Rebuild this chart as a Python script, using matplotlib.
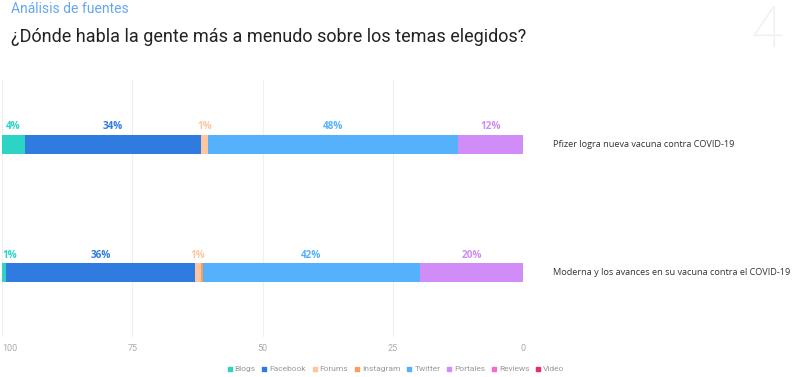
import matplotlib
matplotlib.use('Agg')
import matplotlib.pyplot as plt

# Datos
temas = ['Pfizer logra nueva vacuna contra COVID-19',
         'Moderna y los avances en su vacuna contra el COVID-19']
fuentes = ['Blogs', 'Facebook', 'Forums', 'Instagram', 'Twitter', 'Portales', 'Reviews', 'Video']
colores = ['#2dd4c3', '#2f7be0', '#fdc6a0', '#f99d5b', '#56b1fd', '#d18df7', '#f36bd3', '#e62e6d']
valores = {
    'Blogs':     [4.4, 0.8],
    'Facebook':  [33.8, 36.3],
    'Forums':    [1.4, 1.0],
    'Instagram': [0.0, 0.4],
    'Twitter':   [48.0, 41.8],
    'Portales':  [12.4, 19.7],
    'Reviews':   [0.0, 0.0],
    'Video':     [0.0, 0.0],
}
ticks = [100, 75, 50, 25, 0]

W, H = 800, 377
fig = plt.figure(figsize=(8, 3.77), dpi=100)
ax = fig.add_axes([2 / W, (H - 337) / H, (523 - 2) / W, (337 - 80) / H])

alto = 19 / 129
acum = [0.0, 0.0]
for fuente, color in zip(fuentes, colores):
    vals = valores[fuente]
    for i, v in enumerate(vals):
        if v <= 0:
            continue
        izq = 100 - acum[i] - v
        ax.barh(i, v, left=izq, height=alto, color=color, zorder=3)
        if round(v) >= 1:
            centro = izq + v / 2
            ha = 'center'
            if centro > 98:
                centro, ha = 100, 'left'
            ax.annotate(f'{round(v)}%', xy=(centro, i - alto / 2), xytext=(0, 2),
                        textcoords='offset points', ha=ha, va='bottom',
                        fontsize=7.2, fontweight='bold', color=color,
                        family='Open Sans')
        acum[i] += v
    # entrada de leyenda
    ax.scatter([], [], s=5, marker='s', color=color, label=fuente)

ax.set_xlim(100, 0)
ax.set_ylim(1.5, -0.5)
ax.set_yticks([])
ax.set_xticks(ticks)
ax.set_xticklabels([str(t) for t in ticks], fontsize=6.5, color='#aaaaaa', family='Roboto')
ax.get_xticklabels()[0].set_ha('left')
ax.tick_params(axis='x', length=0, pad=5)
ax.grid(axis='x', color='#efefef', linewidth=0.8, zorder=0)
for s in ax.spines.values():
    s.set_visible(False)

for i, t in enumerate(temas):
    ax.annotate(t, xy=(1, i), xycoords=('axes fraction', 'data'), xytext=(21.5, 0),
                textcoords='offset points', ha='left', va='center',
                fontsize=6.6, color='#333333', family='Open Sans')

leg = fig.legend(loc='center', bbox_to_anchor=(396 / W, 1 - 369 / H), ncol=8,
                 frameon=False, fontsize=6, handlelength=0.5, handletextpad=0.35,
                 columnspacing=0.8, borderpad=0)
for txt in leg.get_texts():
    txt.set_color('#999999')
    txt.set_family('Roboto')

fig.text(11 / W, 1 - 9 / H, 'Análisis de fuentes', fontsize=10, color='#64a7f0',
         family='Roboto', ha='left', va='center')
fig.text(11 / W, 1 - 37 / H, '¿Dónde habla la gente más a menudo sobre los temas elegidos?',
         fontsize=13, color='#222222', family='Roboto', ha='left', va='center')
fig.text(767 / W, 1 - 47 / H, '4', fontsize=42, color='#f0f0f0', family='Roboto',
         fontweight='light', ha='center', va='baseline')

fig.savefig('out.png', dpi=100, facecolor='white')
